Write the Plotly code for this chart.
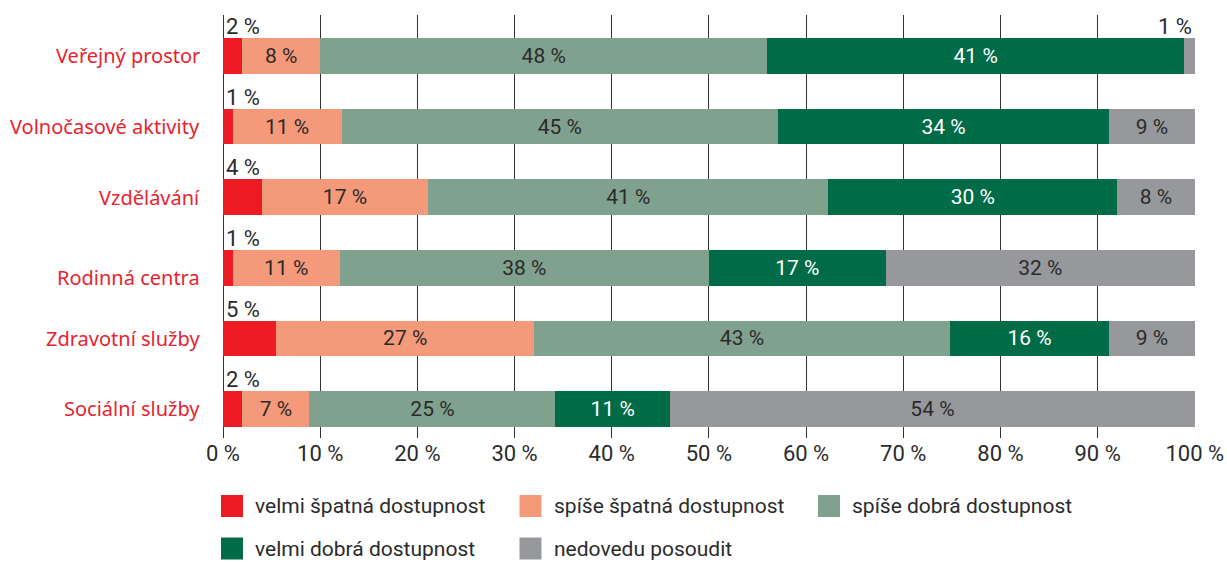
import plotly.graph_objects as go

# ---------------- data ----------------
categories = ["Veřejný prostor", "Volnočasové aktivity", "Vzdělávání",
              "Rodinná centra", "Zdravotní služby", "Sociální služby"]
series_names = ["velmi špatná dostupnost", "spíše špatná dostupnost",
                "spíše dobrá dostupnost", "velmi dobrá dostupnost", "nedovedu posoudit"]

# bar widths as drawn in the picture (%)
velmi_spatna = [2.0, 1.0, 4.0, 1.0, 5.5, 2.0]
spise_spatna = [8.0, 11.2, 17.1, 11.0, 26.5, 6.9]
spise_dobra = [46.0, 44.9, 41.2, 38.0, 42.8, 25.3]
velmi_dobra = [42.9, 34.1, 29.7, 18.2, 16.4, 11.8]
nedovedu = [1.1, 8.8, 8.0, 31.8, 8.8, 54.0]

# value labels as printed in the picture (%)
lab_velmi_spatna = [2, 1, 4, 1, 5, 2]
lab_spise_spatna = [8, 11, 17, 11, 27, 7]
lab_spise_dobra = [48, 45, 41, 38, 43, 25]
lab_velmi_dobra = [41, 34, 30, 17, 16, 11]
lab_nedovedu = [1, 9, 8, 32, 9, 54]

x_ticks = [0, 10, 20, 30, 40, 50, 60, 70, 80, 90, 100]
x_ticklabels = [f"{t} %" for t in x_ticks]

# ---------------- style ----------------
colors = ["#ED1C24", "#F4997A", "#80A18E", "#006C47", "#97989C"]
text_colors = ["#2B2B2B", "#2B2B2B", "#2B2B2B", "#FFFFFF", "#2B2B2B"]
label_red = "#E8232F"
dark = "#2B2B2B"
num_font = "Roboto"
cat_font = "Noto Sans"
NUM_SIZE = 22

W, H = 1227, 562
ML, MR, MT = 223, 32, 15
MB = H - 438
PW, PH = W - ML - MR, H - MT - MB
BAR_PX = 35.7
label_yshift = [0, 0, 0, 10, 0, 0]


def px_x(x):
    return (x - ML) / PW


def px_y(y):
    return (H - MB - y) / PH


values = [velmi_spatna, spise_spatna, spise_dobra, velmi_dobra, nedovedu]
labels = [lab_velmi_spatna, lab_spise_spatna, lab_spise_dobra, lab_velmi_dobra, lab_nedovedu]

fig = go.Figure()
annotations = []
for s, (name, vals, labs) in enumerate(zip(series_names, values, labels)):
    positions = []
    for i, (v, lab) in enumerate(zip(vals, labs)):
        if s == 0:
            positions.append("none")
            annotations.append(dict(x=0, y=categories[i], xref="x", yref="y",
                                    text=f"{lab} %", showarrow=False,
                                    xanchor="left", yanchor="bottom",
                                    xshift=1, yshift=BAR_PX / 2 - 3,
                                    font=dict(family=num_font, size=NUM_SIZE, color=dark)))
        elif v < 3:
            positions.append("none")
            annotations.append(dict(x=100, y=categories[i], xref="x", yref="y",
                                    text=f"{lab} %", showarrow=False,
                                    xanchor="right", yanchor="bottom",
                                    xshift=-1, yshift=BAR_PX / 2 - 3,
                                    font=dict(family=num_font, size=NUM_SIZE, color=dark)))
        else:
            positions.append("inside")
    fig.add_trace(go.Bar(
        y=categories, x=vals, orientation="h", name=name,
        marker=dict(color=colors[s], line=dict(width=0)),
        text=[f"{l} %" for l in labs], textposition=positions,
        insidetextanchor="middle", textangle=0,
        insidetextfont=dict(family=num_font, size=NUM_SIZE - 1, color=text_colors[s]),
        constraintext="none", showlegend=False, hoverinfo="skip",
    ))

# category labels
for i, c in enumerate(categories):
    annotations.append(dict(x=0, y=c, xref="paper", yref="y", text=c, showarrow=False,
                            xanchor="right", yanchor="middle", xshift=-21,
                            yshift=-label_yshift[i],
                            font=dict(family=cat_font, size=20, color=label_red)))

# manual legend
shapes = []
for k, name in enumerate(series_names):
    col, row = k % 3, k // 3
    x0 = 221 + col * 298.5
    yc = 506 + row * 42.5
    shapes.append(dict(type="rect", xref="paper", yref="paper",
                       x0=px_x(x0), x1=px_x(x0 + 22), y0=px_y(yc + 11), y1=px_y(yc - 11),
                       fillcolor=colors[k], line=dict(width=0)))
    annotations.append(dict(x=px_x(x0 + 33), y=px_y(yc), xref="paper", yref="paper",
                            text=name, showarrow=False, xanchor="left", yanchor="middle",
                            borderpad=0,
                            font=dict(family=num_font, size=21, color=dark)))

fig.update_layout(
    width=W, height=H,
    margin=dict(l=ML, r=MR, t=MT, b=MB, pad=0),
    barmode="stack", bargap=1 - BAR_PX / (PH / 5.99),
    plot_bgcolor="white", paper_bgcolor="white",
    annotations=annotations, shapes=shapes,
    xaxis=dict(range=[0, 100.02], tickvals=x_ticks, ticktext=x_ticklabels,
               showgrid=True, gridcolor="#333333", gridwidth=1,
               zeroline=True, zerolinecolor="#333333", zerolinewidth=1,
               showline=False, ticks="", ticklen=0, automargin=False,
               tickfont=dict(family=num_font, size=NUM_SIZE, color=dark)),
    yaxis=dict(type="category", categoryorder="array", categoryarray=categories,
               range=[5 + 29 / 70.6, -40.9 / 70.6], showticklabels=False,
               showgrid=False, zeroline=False, showline=False, automargin=False),
    showlegend=False,
)

fig.write_html("out.html", config={"displayModeBar": False},
               post_script="document.body.style.margin='0';")
